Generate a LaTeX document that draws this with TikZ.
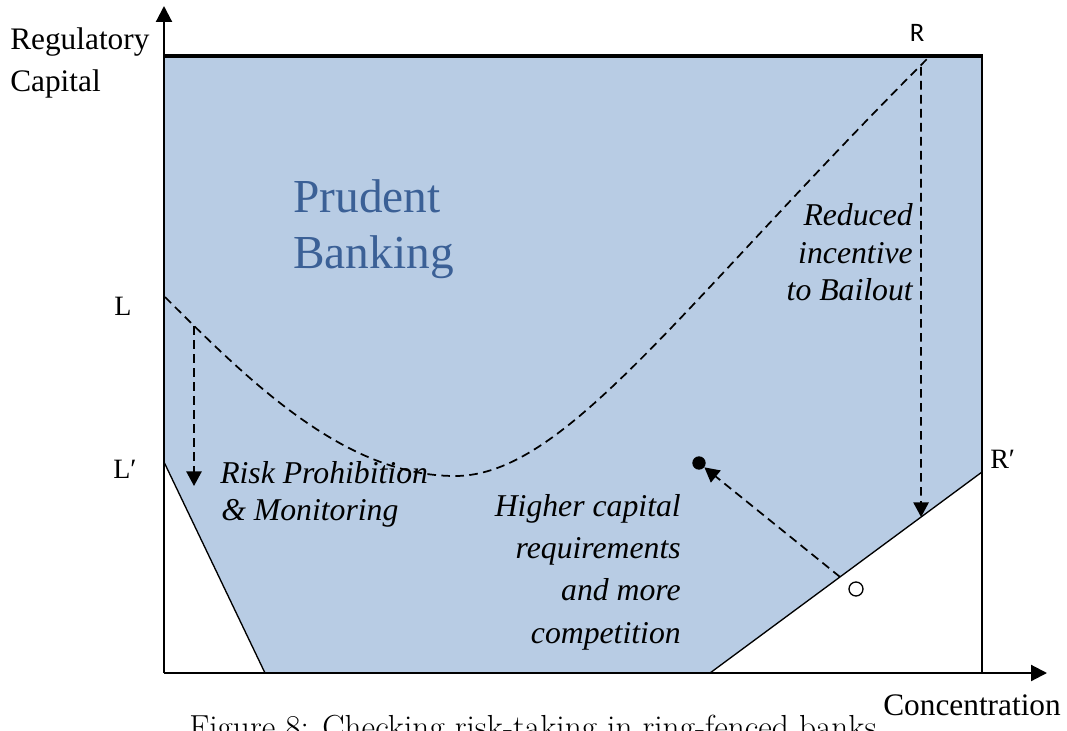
\documentclass[tikz,border=0pt]{standalone}
\usepackage{fontspec}
\newfontfamily\tnr{Liberation Serif}
\newfontfamily\carl{Carlito}
\usetikzlibrary{arrows.meta,calc}
\definecolor{regionblue}{HTML}{B8CCE4}
\definecolor{prudentblue}{HTML}{3B6096}
\begin{document}
\begin{tikzpicture}[x=0.75pt,y=-0.75pt,
  axis/.style={line width=1.6pt,-{Triangle[length=12pt,width=12pt]}},
  frameline/.style={line width=2.2pt},
  topline/.style={line width=3pt},
  edgeline/.style={line width=1pt},
  dashline/.style={line width=1.3pt,dash pattern=on 6.5pt off 4pt},
  dasharrow/.style={dashline,-{Triangle[length=11pt,width=11.5pt]}},
  lbl/.style={font=\tnr\fontsize{23.5}{28}\selectfont,inner sep=0},
  itl/.style={font=\tnr\itshape\fontsize{23.8}{28}\selectfont,inner sep=0},
  ptlbl/.style={font=\tnr\fontsize{21}{25}\selectfont,inner sep=0},
  prud/.style={font=\tnr\fontsize{35.5}{42}\selectfont,text=prudentblue,inner sep=0},
]
\useasboundingbox (0,0) rectangle (1067,731);
% key points
\coordinate (O) at (164,673);
\coordinate (Ytip) at (164,6);
\coordinate (Xtip) at (1047,673);
\coordinate (TL) at (164,56);
\coordinate (TR) at (982,56);
\coordinate (BR) at (982,673);
\coordinate (RP) at (982,472);
\coordinate (B2) at (710,673);
\coordinate (B1) at (265,673);
\coordinate (LP) at (164,462);
\coordinate (Lpt) at (165,297);
\coordinate (Min) at (455,476);
\coordinate (Rpt) at (930,56);
% region
\fill[regionblue] (TL) -- (TR) -- (RP) -- (B2) -- (B1) -- (LP) -- cycle;
\draw[edgeline] (LP) -- (B1);
\draw[edgeline] (RP) -- (B2);
% caption (behind)
\node[font=\fontsize{25}{30}\selectfont,inner sep=0,anchor=base west] (caption) at (189,738) {Figure 8: Checking risk-taking in ring-fenced banks};
% axes and frame
\draw[axis] (O) -- (Ytip);
\draw[axis] (O) -- (Xtip);
\draw[topline] (TL) -- ([xshift=1pt]TR);
\draw[frameline] (TR) -- (BR);
% dashed curve
\draw[dashline] (Lpt) .. controls (250,382) and (345,476) .. (Min)
  .. controls (565,476) and (680,306) .. (Rpt);
% dashed arrows
\coordinate (Lc) at (194,326);
\coordinate (Lend) at (194,486);
\draw[dasharrow] (Lc) -- (Lend);
\coordinate (Rc) at (921,67);
\coordinate (Rend) at ($(RP)!0.224!(B2)$);
\draw[dasharrow] (Rc) -- (Rend);
\node[circle,fill,inner sep=0,minimum size=10pt] (dot) at (699,463) {};
\node[circle,draw,line width=1pt,inner sep=0,minimum size=10.5pt] (odot) at (856,589) {};
\coordinate (start) at ($(RP)!0.522!(B2)$);
\draw[dasharrow] (start) -- (dot);
% labels
\node[lbl,anchor=base west] (reg) at (10,50) {Regulatory};
\node[lbl,anchor=base west] (capl) at (10,92) {Capital};
\node[font=\carl\fontsize{20}{24}\selectfont,inner sep=0,anchor=base] (Rlab) at (917,42) {R};
\node[ptlbl,anchor=base] (Llab) at (123,315) {L};
\node[ptlbl,anchor=base west] (Lplab) at (113,478) {L′};
\node[ptlbl,anchor=base west] (Rplab) at (990,468) {R′};
\node[prud,anchor=base west] (pb1) at (293,212) {Prudent};
\node[prud,anchor=base west] (pb2) at (293,268) {Banking};
\node[itl,anchor=base east] (rb1) at (913,225) {Reduced};
\node[itl,anchor=base east] (rb2) at (913,263) {incentive};
\node[itl,anchor=base east] (rb3) at (913,300) {to Bailout};
\node[itl,anchor=base west] (rp1) at (220,483) {Risk Prohibition};
\node[itl,anchor=base west] (rp2) at (221,520) {\&~Monitoring};
\node[itl,anchor=base east] (hc1) at (681,516) {Higher capital};
\node[itl,anchor=base east] (hc2) at (681,558) {requirements};
\node[itl,anchor=base east] (hc3) at (681,600) {and more};
\node[itl,anchor=base east] (hc4) at (681,643) {competition};
\node[lbl,anchor=base west] (conc) at (883,715) {Concentration};
\end{tikzpicture}
\end{document}
